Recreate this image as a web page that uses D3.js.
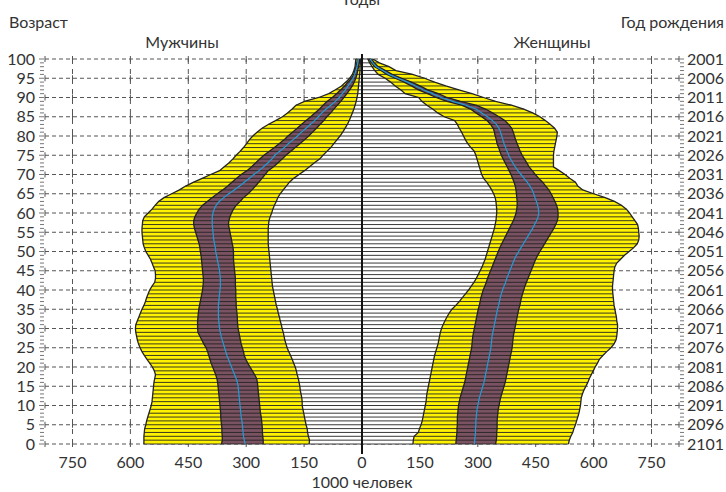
<!DOCTYPE html>
<html>
<head>
<meta charset="utf-8">
<script src="https://cdn.jsdelivr.net/npm/d3@7/dist/d3.min.js"></script>
<style>
  body { margin: 0; background: #fff; }
  svg { display: block; font-family: Lato, "DejaVu Sans", sans-serif; }
</style>
</head>
<body>
<svg id="chart"></svg>
<script>
// ages 0..100, values in thousands of people
const ages = d3.range(0, 101);
const ageTicks = [0, 5, 10, 15, 20, 25, 30, 35, 40, 45, 50, 55, 60, 65, 70, 75, 80, 85, 90, 95, 100];
const valueTicks = [0, 150, 300, 450, 600, 750];

// men (left side)
const maleLo95 = [
  137,136,139,141,142,145,147,149,151,153,
  155,155,156,158,160,161,163,165,168,170,
  173,177,181,185,190,194,197,200,202,204,
  207,209,212,214,217,219,222,224,226,228,
  230,232,233,234,235,236,237,238,239,240,
  241,242,243,243,243,243,243,242,241,238,
  234,231,227,222,218,212,204,196,188,177,
  163,149,136,124,110,101,91,81,73,65,
  57,50,44,38,33,29,25,21,18,15,
  13,11,10,9,8,7,6,5,5,4,
  4];
const maleLo80 = [
  256,256,257,258,258,259,260,261,263,264,
  265,266,267,268,269,270,271,273,278,284,
  290,296,301,305,307,310,313,315,317,319,
  321,322,323,323,324,325,326,326,327,327,
  327,328,328,328,329,330,331,332,333,333,
  333,334,336,338,340,342,344,346,345,342,
  338,333,326,316,307,295,285,276,267,259,
  251,243,229,218,207,197,185,173,161,149,
  138,128,118,109,99,91,81,73,64,55,
  47,39,32,25,20,16,13,11,9,7,
  6];
const maleMedian = [
  303,305,307,308,309,310,311,313,314,315,
  316,317,318,319,320,321,323,326,330,334,
  338,342,346,350,353,356,359,362,365,367,
  369,370,371,372,372,372,372,371,370,369,
  368,367,367,367,368,369,371,373,375,377,
  379,380,382,384,385,386,387,388,388,388,
  386,383,378,370,358,345,331,317,305,292,
  280,267,255,244,234,226,214,201,191,179,
  167,157,145,134,123,113,104,93,81,69,
  59,51,43,36,29,23,19,16,13,11,
  10];
const maleHi80 = [
  364,362,362,363,363,364,365,366,366,367,
  368,369,370,371,372,373,374,376,379,383,
  387,391,394,397,400,404,410,415,420,425,
  426,426,426,425,424,423,421,419,417,415,
  413,412,411,411,412,413,414,415,416,417,
  419,420,422,425,428,431,434,436,436,433,
  428,422,413,401,388,375,361,348,337,325,
  313,298,286,276,265,254,241,227,215,202,
  192,180,168,157,145,133,122,110,101,90,
  77,66,55,45,37,27,21,18,15,13,
  12];
const maleHi95 = [
  565,565,565,564,563,560,558,555,552,549,
  546,544,543,542,541,540,539,537,535,538,
  543,550,557,564,570,575,579,582,584,586,
  587,586,582,578,574,570,565,561,558,554,
  550,544,537,535,535,536,540,544,548,554,
  560,564,567,568,569,570,570,569,568,564,
  554,544,536,527,513,493,473,457,436,414,
  392,369,357,345,335,326,316,307,299,292,
  283,272,259,243,224,206,193,181,171,149,
  112,86,69,53,42,32,25,21,18,17,
  16];

// women (right side)
const femaleLo95 = [
  132,133,135,146,149,153,156,158,160,162,
  164,166,167,168,170,172,174,176,178,180,
  182,184,186,188,191,194,197,199,201,203,
  206,210,215,220,226,233,243,252,260,268,
  276,283,290,296,301,306,311,315,319,322,
  325,328,331,334,337,340,343,345,347,348,
  349,349,348,347,345,341,336,330,323,315,
  310,307,304,301,298,295,291,282,274,268,
  263,258,252,247,240,213,196,183,168,155,
  147,112,100,86,74,60,42,33,26,20,
  15];
const femaleLo80 = [
  243,244,245,246,246,247,247,247,248,249,
  250,252,254,257,260,263,266,268,270,272,
  274,276,278,280,282,284,285,286,287,289,
  291,293,295,297,299,301,304,306,308,311,
  314,318,322,325,329,333,337,341,345,349,
  353,357,362,367,372,377,382,387,392,396,
  399,401,402,402,401,400,399,397,394,390,
  386,381,376,371,366,361,357,354,350,348,
  345,343,340,333,324,310,295,281,258,220,
  192,170,146,128,109,86,64,49,33,25,
  18];
const femaleMedian = [
  291,292,293,294,294,295,295,296,297,298,
  300,302,304,307,310,313,316,318,320,322,
  324,326,328,330,332,334,335,336,337,339,
  341,343,345,347,349,351,354,356,358,361,
  364,368,372,375,379,383,387,391,395,400,
  406,412,418,424,430,436,442,447,452,456,
  458,457,455,452,448,445,441,435,428,420,
  412,404,397,391,385,380,376,372,368,365,
  362,359,355,348,338,325,310,295,270,235,
  205,183,158,139,118,93,70,54,37,28,
  21];
const femaleHi80 = [
  346,348,349,349,350,350,350,351,352,353,
  355,357,359,362,365,368,371,373,375,377,
  379,381,383,385,387,389,390,391,392,394,
  396,398,400,402,404,406,409,411,413,416,
  419,422,426,430,434,438,442,446,450,455,
  461,467,473,479,485,491,497,502,506,508,
  508,507,504,500,495,490,484,476,468,458,
  449,441,433,427,421,415,410,406,402,398,
  395,392,388,380,370,355,338,320,295,255,
  220,198,170,150,128,103,78,61,42,32,
  25];
const femaleHi95 = [
  535,537,541,546,549,553,556,559,562,564,
  566,567,568,571,575,580,585,589,594,599,
  604,610,615,624,634,645,653,658,660,661,
  662,662,660,659,657,655,653,652,651,650,
  649,649,650,651,652,653,655,660,670,680,
  692,704,713,717,718,717,716,714,707,700,
  693,685,672,654,630,600,572,559,553,538,
  526,511,496,496,496,496,497,499,501,503,
  505,506,499,488,475,461,442,419,387,346,
  315,285,251,217,188,162,131,88,70,45,
  28];

const width = 726;
const height = 492;
const cx = 362;

const yellow = "#fff200";
const purple = "#7b5262";
const blue = "#1f9bd8";
const ink = "#222";

const svg = d3.select("#chart").attr("width", width).attr("height", height);

const y = d3.scaleLinear().domain([0, 100]).range([444, 59]);
const xL = d3.scaleLinear().domain([0, 750]).range([cx, 72.5]);
const xR = d3.scaleLinear().domain([0, 750]).range([cx, 651.5]);

// grid
const grid = svg.append("g").attr("class", "grid");

grid.selectAll("line.h")
  .data(ageTicks)
  .join("line")
  .attr("class", "h")
  .attr("x1", 45).attr("x2", 679)
  .attr("y1", (d) => y(d)).attr("y2", (d) => y(d))
  .attr("stroke", "#555")
  .attr("stroke-width", 1)
  .attr("stroke-dasharray", "4,3");

const gridX = [];
valueTicks.slice(1).forEach((v) => {
  gridX.push(xL(v));
  gridX.push(xR(v));
});

grid.selectAll("line.v")
  .data(gridX)
  .join("line")
  .attr("class", "v")
  .attr("x1", (d) => d).attr("x2", (d) => d)
  .attr("y1", y(100)).attr("y2", y(0))
  .attr("stroke", "#555")
  .attr("stroke-width", 1)
  .attr("stroke-dasharray", "5,5");

// little crosses where grid lines meet
const crosses = [];
gridX.concat([45, 679]).forEach((gx) => ageTicks.forEach((a) => crosses.push([gx, y(a)])));
grid.selectAll("line.c")
  .data(crosses)
  .join("line")
  .attr("class", "c")
  .attr("x1", (d) => d[0]).attr("x2", (d) => d[0])
  .attr("y1", (d) => d[1] - 3).attr("y2", (d) => d[1] + 3)
  .attr("stroke", "#555")
  .attr("stroke-width", 1);

// one half of the pyramid
function drawSide(x, lo95, lo80, med, hi80, hi95) {
  const rows = ages.map((a) => ({
    a, lo95: lo95[a], lo80: lo80[a], med: med[a], hi80: hi80[a], hi95: hi95[a],
  }));
  const g = svg.append("g");

  const band = (k0, k1) => d3.area()
    .y((d) => y(d.a))
    .x0((d) => (k0 ? x(d[k0]) : x(0)))
    .x1((d) => x(d[k1]));
  const edge = (k) => d3.line().y((d) => y(d.a)).x((d) => x(d[k]));

  g.append("path").datum(rows).attr("d", band(null, "hi95")).attr("fill", "#fff");
  g.append("path").datum(rows).attr("d", band("lo95", "hi95")).attr("fill", yellow);
  g.append("path").datum(rows).attr("d", band("lo80", "hi80")).attr("fill", purple);

  // one line per year of age
  g.selectAll("line.age")
    .data(rows)
    .join("line")
    .attr("class", "age")
    .attr("x1", x(0)).attr("x2", (d) => x(d.hi95))
    .attr("y1", (d) => y(d.a)).attr("y2", (d) => y(d.a))
    .attr("stroke", ink)
    .attr("stroke-width", 0.9);

  ["lo95", "lo80", "hi80", "hi95"].forEach((k) => {
    g.append("path").datum(rows).attr("d", edge(k))
      .attr("fill", "none").attr("stroke", ink).attr("stroke-width", 1.3);
  });

  g.append("path").datum(rows).attr("d", edge("med"))
    .attr("fill", "none").attr("stroke", blue).attr("stroke-width", 1.2);
}

drawSide(xL, maleLo95, maleLo80, maleMedian, maleHi80, maleHi95);
drawSide(xR, femaleLo95, femaleLo80, femaleMedian, femaleHi80, femaleHi95);

// centre line
svg.append("line")
  .attr("x1", cx).attr("x2", cx)
  .attr("y1", y(100) - 5).attr("y2", y(0) + 10)
  .attr("stroke", "#111").attr("stroke-width", 2);

// left and right combs of yearly ticks
[[40, 44], [680, 684]].forEach(([a, b]) => {
  svg.append("g").selectAll("line")
    .data(ages)
    .join("line")
    .attr("x1", (d) => (d % 5 === 0 ? a - 1 : a)).attr("x2", b)
    .attr("y1", (d) => y(d)).attr("y2", (d) => y(d))
    .attr("stroke", "#777").attr("stroke-width", 1);
});

const label = (sel) => sel.attr("fill", "#333").attr("font-size", 16);

// age labels
svg.append("g").selectAll("text")
  .data(ageTicks)
  .join("text")
  .attr("x", 35).attr("y", (d) => y(d))
  .attr("dy", "0.35em")
  .attr("text-anchor", "end")
  .text((d) => d)
  .call(label);

// birth year labels
svg.append("g").selectAll("text")
  .data(ageTicks)
  .join("text")
  .attr("x", 687).attr("y", (d) => y(d))
  .attr("dy", "0.35em")
  .text((d) => 2101 - d)
  .call(label);

// value labels under the chart
const xLabels = valueTicks.map((v) => ({ x: xL(v), v }))
  .concat(valueTicks.slice(1).map((v) => ({ x: xR(v), v })));
svg.append("g").selectAll("text")
  .data(xLabels)
  .join("text")
  .attr("x", (d) => d.x).attr("y", 462)
  .attr("dy", "0.35em")
  .attr("text-anchor", "middle")
  .text((d) => d.v)
  .call(label);

svg.append("text").attr("x", cx).attr("y", 482).attr("dy", "0.35em")
  .attr("text-anchor", "middle").text("1000 человек").call(label);
svg.append("text").attr("x", cx).attr("y", 5)
  .attr("text-anchor", "middle").text("Годы").call(label);
svg.append("text").attr("x", 9).attr("y", 22).attr("dy", "0.35em")
  .text("Возраст").call(label);
svg.append("text").attr("x", 724).attr("y", 22).attr("dy", "0.35em")
  .attr("text-anchor", "end").text("Год рождения").call(label);
svg.append("text").attr("x", 182).attr("y", 42).attr("dy", "0.35em")
  .attr("text-anchor", "middle").text("Мужчины").call(label);
svg.append("text").attr("x", 552).attr("y", 42).attr("dy", "0.35em")
  .attr("text-anchor", "middle").text("Женщины").call(label);
</script>
</body>
</html>
